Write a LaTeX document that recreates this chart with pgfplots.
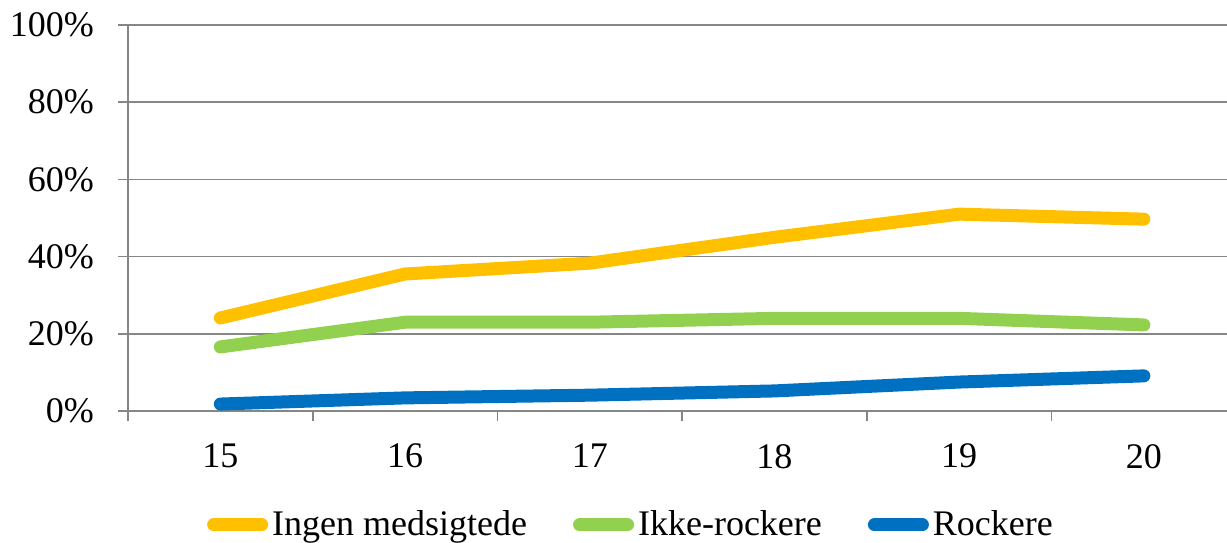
\documentclass[border=0pt]{standalone}
\usepackage{pgfplots}
\pgfplotsset{compat=1.18}
\usepackage{fontspec}
\setmainfont{Liberation Serif}

\definecolor{ingen}{HTML}{FFC000}
\definecolor{ikke}{HTML}{92D050}
\definecolor{rock}{HTML}{0070C0}
\definecolor{axgray}{RGB}{134,134,134}

\begin{document}
\begin{tikzpicture}
\useasboundingbox (0,0) rectangle (613.5pt,271pt);
\begin{axis}[
    at={(64pt,65.5pt)}, anchor=south west,
    scale only axis,
    width=549.5pt, height=193pt,
    font=\fontsize{18}{21}\selectfont,
    xmin=14.5, xmax=20.45,
    ymin=0, ymax=100,
    ytick={0,20,...,100},
    yticklabel={\pgfmathprintnumber{\tick}\%},
    xtick={15,...,20},
    extra x ticks={14.5,15.5,...,19.5},
    extra x tick labels={},
    extra x tick style={xtick style={draw=axgray, line width=0.8pt}},
    xtick style={draw=none},
    ytick style={draw=axgray, line width=0.8pt},
    tick align=outside, major tick length=5pt,
    axis x line*=bottom, axis y line*=left,
    axis line style={draw=axgray, line width=0.8pt, -},
    ymajorgrids=true,
    grid style={draw=axgray, line width=0.8pt},
    /pgf/number format/assume math mode=true,
    yticklabel style={xshift=-8.5pt},
    xticklabel style={yshift=-8pt},
    legend columns=3,
    legend style={at={(0.4586,-0.295)}, anchor=center, draw=none, fill=none,
        /tikz/every even column/.append style={column sep=21pt}},
    legend image code/.code={\draw[#1, line cap=round] (3pt,0pt) -- (27pt,0pt);},
    every axis plot/.append style={line width=6.5pt, line cap=round, line join=round},
]
\addplot[color=ingen] coordinates {
    (15,24.1) (16,35.5) (17,38.3) (18,45.0) (19,51.0) (20,49.7)
};
\addplot[color=ikke] coordinates {
    (15,16.6) (16,23.0) (17,23.0) (18,24.0) (19,24.0) (20,22.3)
};
\addplot[color=rock] coordinates {
    (15,1.8) (16,3.4) (17,4.1) (18,5.2) (19,7.5) (20,9.1)
};
\legend{Ingen medsigtede, Ikke-rockere, Rockere}
\end{axis}
\end{tikzpicture}
\end{document}
